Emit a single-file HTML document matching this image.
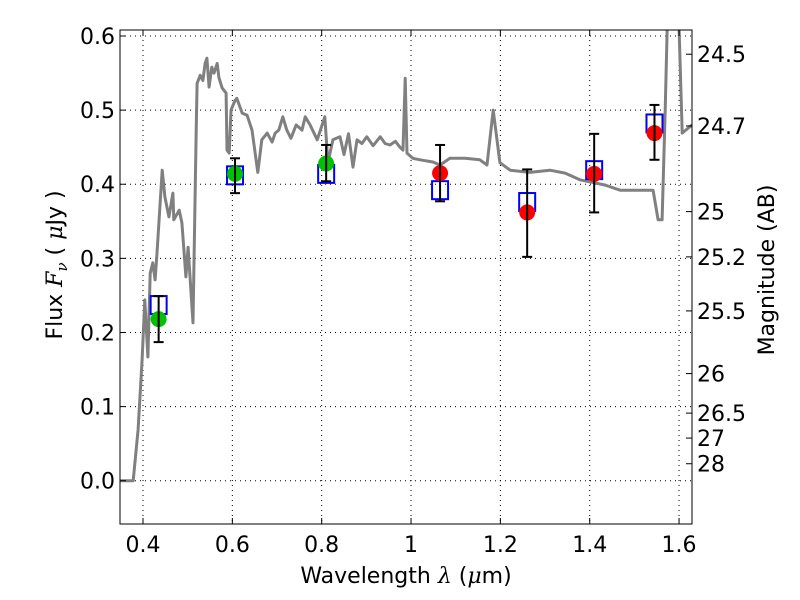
<!DOCTYPE html>
<html><head><meta charset="utf-8"><style>
body{margin:0;background:#fff;}
svg{display:block;font-family:"DejaVu Sans","Liberation Sans",sans-serif;}
</style></head><body>
<svg id="chart" width="800" height="600" viewBox="0 0 800 600"></svg>
<script>
const specWl=[0.349,0.378,0.389,0.398,0.404,0.411,0.416,0.422,0.427,0.431,0.443,0.449,0.458,0.467,0.469,0.481,0.487,0.496,0.501,0.512,0.519,0.521,0.528,0.534,0.539,0.543,0.548,0.554,0.559,0.566,0.570,0.577,0.586,0.588,0.593,0.597,0.606,0.610,0.622,0.633,0.644,0.657,0.666,0.678,0.689,0.696,0.704,0.713,0.722,0.731,0.743,0.756,0.763,0.774,0.790,0.807,0.814,0.825,0.841,0.850,0.860,0.870,0.879,0.890,0.901,0.915,0.931,0.942,0.953,0.965,0.975,0.982,0.987,0.991,1.004,1.020,1.049,1.065,1.087,1.121,1.154,1.170,1.184,1.199,1.222,1.266,1.311,1.345,1.378,1.434,1.468,1.513,1.542,1.553,1.562,1.569,1.575,1.598,1.607,1.629];
const specFlux=[0,0,0.069,0.163,0.244,0.167,0.280,0.294,0.271,0.305,0.419,0.383,0.356,0.388,0.352,0.365,0.348,0.275,0.315,0.213,0.473,0.536,0.547,0.540,0.563,0.570,0.531,0.558,0.550,0.563,0.544,0.530,0.523,0.446,0.442,0.500,0.513,0.516,0.496,0.493,0.473,0.416,0.460,0.469,0.457,0.469,0.473,0.491,0.473,0.462,0.480,0.473,0.491,0.480,0.460,0.491,0.429,0.460,0.464,0.440,0.468,0.423,0.460,0.455,0.464,0.452,0.464,0.455,0.453,0.458,0.450,0.446,0.543,0.442,0.435,0.433,0.430,0.426,0.435,0.435,0.433,0.426,0.500,0.429,0.419,0.416,0.419,0.415,0.406,0.399,0.392,0.392,0.392,0.352,0.352,0.500,0.65,0.65,0.469,0.480];
const bandWl=[0.435,0.606,0.81,1.065,1.26,1.41,1.545];
const modelFlux=[0.237,0.412,0.414,0.392,0.376,0.419,0.482];
const obsFlux=[0.218,0.414,0.428,0.415,0.362,0.414,0.469];
const errLo=[0.187,0.388,0.404,0.377,0.302,0.362,0.433];
const errHi=[0.249,0.435,0.453,0.453,0.420,0.468,0.507];
const obsColor=['#00c000','#00c000','#00c000','#ff0000','#ff0000','#ff0000','#ff0000'];
const xTicks=[0.4,0.6,0.8,1.0,1.2,1.4,1.6];
const xTickLabels=['0.4','0.6','0.8','1','1.2','1.4','1.6'];
const yTicks=[0,0.1,0.2,0.3,0.4,0.5,0.6];
const yTickLabels=['0.0','0.1','0.2','0.3','0.4','0.5','0.6'];
const magTicks=[24.5,24.7,25,25.2,25.5,26,26.5,27,28];
const magLabels=['24.5','24.7','25','25.2','25.5','26','26.5','27','28'];

const L=120,R=692,T=30,B=524;
const X0=0.3485,X1=1.629,Y0=-0.0584,Y1=0.6081;
const sx=v=>L+(v-X0)/(X1-X0)*(R-L);
const sy=v=>B-(v-Y0)/(Y1-Y0)*(B-T);
const svg=document.getElementById('chart');
const NS='http://www.w3.org/2000/svg';
function mk(tag,at,parent){const e=document.createElementNS(NS,tag);for(const k in at)e.setAttribute(k,at[k]);(parent||svg).appendChild(e);return e;}

const defs=mk('defs',{});
const cp=mk('clipPath',{id:'pc'},defs);mk('rect',{x:L,y:T,width:R-L,height:B-T},cp);

xTicks.forEach(v=>{const g=mk('line',{x1:sx(v),x2:sx(v),y1:T,y2:B,stroke:'#000','stroke-width':1,'stroke-dasharray':'1,4'});

});
yTicks.forEach(v=>{const g=mk('line',{x1:L,x2:R,y1:sy(v),y2:sy(v),stroke:'#000','stroke-width':1,'stroke-dasharray':'1,4'});

});

const pts=specWl.map((w,i)=>sx(w).toFixed(1)+','+sy(specFlux[i]).toFixed(1)).join(' ');
const sp=mk('polyline',{points:pts,fill:'none',stroke:'#808080','stroke-width':3,'clip-path':'url(#pc)','stroke-linejoin':'round'});



bandWl.forEach((w,i)=>{
 const x=sx(w);
 const m=mk('rect',{x:x-8,y:sy(modelFlux[i])-9,width:16,height:18,fill:'none',stroke:'#0000ff','stroke-width':2});
 
 
 const c=mk('circle',{cx:x,cy:sy(obsFlux[i]),r:8,fill:obsColor[i]});
 
 
 const eb=mk('g',{stroke:'#000','stroke-width':2});
 
 
 mk('line',{x1:x,x2:x,y1:sy(errLo[i]),y2:sy(errHi[i])},eb);
 mk('line',{x1:x-5,x2:x+5,y1:sy(errLo[i]),y2:sy(errLo[i])},eb);
 mk('line',{x1:x-5,x2:x+5,y1:sy(errHi[i]),y2:sy(errHi[i])},eb);
});

const fr=mk('rect',{x:L,y:T,width:R-L,height:B-T,fill:'none',stroke:'#000','stroke-width':1});



xTicks.forEach((v,i)=>{const x=sx(v);
 mk('line',{x1:x,x2:x,y1:B,y2:B-6,stroke:'#000'});mk('line',{x1:x,x2:x,y1:T,y2:T+6,stroke:'#000'});
 const t=mk('text',{x:x,y:B+28,'font-size':22,'text-anchor':'middle'});t.textContent=xTickLabels[i];
 
 });
yTicks.forEach((v,i)=>{const y=sy(v);
 mk('line',{x1:L,x2:L+6,y1:y,y2:y,stroke:'#000'});
 const t=mk('text',{x:L-5,y:y+8,'font-size':22,'text-anchor':'end'});t.textContent=yTickLabels[i];
 
 });
magTicks.forEach((m,i)=>{const y=sy(Math.pow(10,(23.9-m)/2.5));
 mk('line',{x1:R,x2:R-6,y1:y,y2:y,stroke:'#000'});
 const t=mk('text',{x:R+5,y:y+8,'font-size':22});t.textContent=magLabels[i];
 
 });
</script>
<svg style="position:absolute;left:0;top:0" width="800" height="600">
<text x="406" y="583" font-size="22" text-anchor="middle" font-family="DejaVu Sans, sans-serif">Wavelength  <tspan font-style="italic" font-family="DejaVu Serif, serif">λ</tspan> (<tspan font-style="italic" font-family="DejaVu Serif, serif">μ</tspan>m)</text>
<text transform="translate(62,265) rotate(-90)" font-size="22" text-anchor="middle" font-family="DejaVu Sans, sans-serif">Flux  <tspan font-style="italic" font-family="DejaVu Serif, serif">F</tspan><tspan font-style="italic" font-size="15" dy="5" font-family="DejaVu Serif, serif">ν</tspan><tspan dy="-5">   (  </tspan><tspan font-style="italic" font-family="DejaVu Serif, serif">μ</tspan>Jy )</text>
<text transform="translate(774,270) rotate(-90)" font-size="22" text-anchor="middle" font-family="DejaVu Sans, sans-serif">Magnitude (AB)</text>
</svg>
</body></html>
